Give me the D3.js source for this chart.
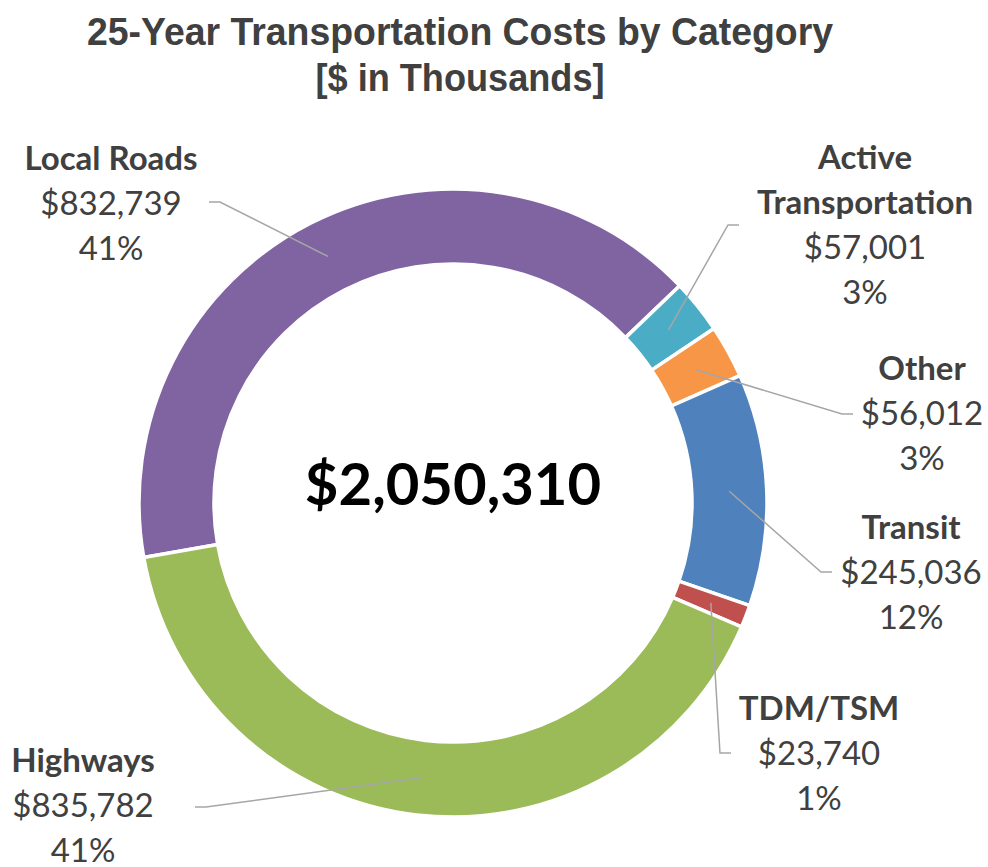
<!DOCTYPE html>
<html>
<head>
<meta charset="utf-8">
<script src="https://cdn.jsdelivr.net/npm/d3@7"></script>
<style>
  body { margin: 0; background: #fff; }
  svg { display: block; }
</style>
</head>
<body>
<div id="chart"></div>
<script>
// data
var categories = ["Local Roads", "Active Transportation", "Other", "Transit", "TDM/TSM", "Highways"];
var costs = [832739, 57001, 56012, 245036, 23740, 835782];
var colors = ["#8064A2", "#4BACC6", "#F79646", "#4F81BD", "#C0504D", "#9BBB59"];
var titleLines = ["25-Year Transportation Costs by Category", "[$ in Thousands]"];
var titleWidths = [746, 289]; // title is set in a condensed bold face

// label placement (text centre x, first baseline y, leader end x/y)
var labelLayout = [
    { x: 111, y: 170, lx: 209, ly: 202, dir: 1 },
    { x: 865, y: 169, lx: 739, ly: 225, dir: -1 },
    { x: 922, y: 380, lx: 853, ly: 414, dir: -1 },
    { x: 911, y: 539, lx: 832, ly: 572, dir: -1 },
    { x: 819, y: 720, lx: 731, ly: 753, dir: -1 },
    { x: 83, y: 772, lx: 195, ly: 807, dir: 1 }
];

var width = 988, height = 867;
var cx = 453, cy = 503;
var outerR = 314, innerR = 239;
var lineH = 45;

var total = d3.sum(costs);
var fmtMoney = d3.format("$,");
var fmtPct = d3.format(".0%");

var rows = categories.map(function (c, i) {
    return { name: c, value: costs[i], color: colors[i], layout: labelLayout[i] };
});

var svg = d3.select("#chart").append("svg")
    .attr("width", width)
    .attr("height", height);

// title
svg.append("g").selectAll("text")
    .data(titleLines).enter()
    .append("text")
    .attr("x", 460)
    .attr("y", function (d, i) { return 45 + i * 46; })
    .attr("text-anchor", "middle")
    .attr("textLength", function (d, i) { return titleWidths[i]; })
    .attr("lengthAdjust", "spacingAndGlyphs")
    .style("font-family", "'Liberation Sans', Arial, sans-serif")
    .style("font-weight", "bold")
    .style("font-size", "39px")
    .style("fill", "#404040")
    .text(function (d) { return d; });

var pie = d3.pie()
    .sort(null)
    .value(function (d) { return d.value; })
    .startAngle(-100 * Math.PI / 180)
    .endAngle(260 * Math.PI / 180);

var arc = d3.arc().innerRadius(innerR).outerRadius(outerR);

var g = svg.append("g").attr("transform", "translate(" + cx + "," + cy + ")");

var arcs = pie(rows);

g.selectAll("path.slice")
    .data(arcs).enter()
    .append("path")
    .attr("class", "slice")
    .attr("d", arc)
    .style("fill", function (d) { return d.data.color; })
    .style("stroke", "#fff")
    .style("stroke-width", 3.5);

// leader lines
svg.selectAll("polyline.leader")
    .data(arcs).enter()
    .append("polyline")
    .attr("class", "leader")
    .attr("points", function (d) {
        var c = arc.centroid(d);
        var L = d.data.layout;
        var bend = [L.lx + L.dir * 11, L.ly];
        return [[L.lx, L.ly], bend, [c[0] + cx, c[1] + cy]].map(function (p) { return p.join(","); }).join(" ");
    })
    .style("fill", "none")
    .style("stroke", "#A6A6A6")
    .style("stroke-width", 1.5);

// data labels
var labels = svg.selectAll("g.label")
    .data(arcs).enter()
    .append("g")
    .attr("class", "label");

labels.each(function (d) {
    var L = d.data.layout;
    var nameLines = d.data.name === "Active Transportation" ? ["Active", "Transportation"] : [d.data.name];
    var lines = nameLines.map(function (t) { return { t: t, bold: true }; })
        .concat([{ t: fmtMoney(d.data.value), bold: false }, { t: fmtPct(d.data.value / total), bold: false }]);
    d3.select(this).selectAll("text")
        .data(lines).enter()
        .append("text")
        .attr("x", L.x)
        .attr("y", function (e, i) { return L.y + i * lineH; })
        .attr("text-anchor", "middle")
        .style("font-family", "Lato, 'Open Sans', sans-serif")
        .style("font-size", "33px")
        .style("font-weight", function (e) { return e.bold ? "bold" : "normal"; })
        .style("fill", "#404040")
        .text(function (e) { return e.t; });
});

// centre total
svg.append("text")
    .attr("x", cx)
    .attr("y", 505)
    .attr("text-anchor", "middle")
    .style("font-family", "Lato, 'Open Sans', sans-serif")
    .style("font-size", "58px")
    .style("font-weight", "bold")
    .style("fill", "#000")
    .text(fmtMoney(total));
</script>
</body>
</html>
